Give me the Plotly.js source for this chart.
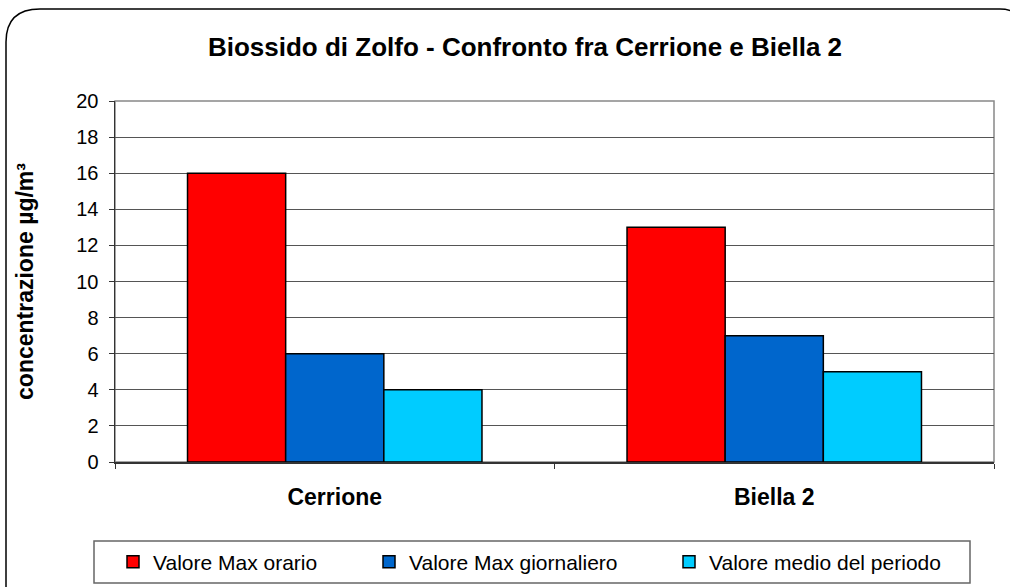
<!DOCTYPE html>
<html>
<head>
<meta charset="utf-8">
<script src="https://cdn.plot.ly/plotly-3.0.1.min.js"></script>
<style>
html,body{margin:0;padding:0;background:#fff;}
#chart{width:1010px;height:587px;}
</style>
</head>
<body>
<div id="chart"></div>
<script>
const categories = ["Cerrione", "Biella 2"];
const seriesNames = ["Valore Max orario", "Valore Max giornaliero", "Valore medio del periodo"];
const valMaxOrario = [16, 13];
const valMaxGiornaliero = [6, 7];
const valMedio = [4, 5];
const seriesValues = [valMaxOrario, valMaxGiornaliero, valMedio];
const seriesColors = ["#FF0000", "#0066CC", "#00CCFF"];
const yTicks = [0, 2, 4, 6, 8, 10, 12, 14, 16, 18, 20];

const W = 1010, H = 587;
const M = {l: 115, r: 16, t: 101, b: 125};
const pw = W - M.l - M.r, ph = H - M.t - M.b;
function px(x) { return (x - M.l) / pw; }
function py(y) { return (H - M.b - y) / ph; }

const font = "Liberation Sans, Arial, sans-serif";
const legendNames = ["legend", "legend2", "legend3"];

const traces = seriesNames.map((n, i) => ({
  type: "bar",
  name: n,
  x: categories,
  y: seriesValues[i],
  marker: {color: seriesColors[i], line: {color: "#000", width: 1.5}},
  legend: legendNames[i],
  hoverinfo: "none"
}));

function legendAt(xpix) {
  return {
    xref: "container", yref: "container",
    x: xpix / W, xanchor: "left",
    y: 1 - 562 / H, yanchor: "middle",
    orientation: "h",
    bgcolor: "rgba(0,0,0,0)",
    borderwidth: 0,
    font: {family: font, size: 21, color: "#000"}
  };
}

// outer rounded frame path in paper coords
const frame = "M" + px(6) + "," + py(620) +
  " L" + px(6) + "," + py(42) +
  " Q" + px(6) + "," + py(9) + " " + px(40) + "," + py(9) +
  " L" + px(1000) + "," + py(9) +
  " Q" + px(1012) + "," + py(9) + " " + px(1020) + "," + py(16);

const layout = {
  width: W, height: H,
  margin: M,
  paper_bgcolor: "#fff",
  plot_bgcolor: "#fff",
  font: {family: font, size: 20, color: "#000"},
  title: {
    text: "<b>Biossido di Zolfo - Confronto fra Cerrione e Biella 2</b>",
    font: {family: font, size: 26, color: "#000"},
    x: 525 / W, xref: "container", xanchor: "center",
    y: 1 - 47 / H, yref: "container", yanchor: "middle"
  },
  barmode: "group",
  bargap: 0.33,
  bargroupgap: 0,
  showlegend: true,
  legend: legendAt(113),
  legend2: legendAt(369),
  legend3: legendAt(669),
  xaxis: {
    type: "category",
    tickson: "boundaries",
    ticks: "outside",
    ticklen: 5,
    tickcolor: "#333",
    showgrid: false,
    showline: true,
    linecolor: "#333",
    linewidth: 1.5,
    ticklabelstandoff: 14,
    tickfont: {family: font, size: 23, color: "#000", weight: "bold"},
    automargin: false,
    fixedrange: true
  },
  yaxis: {
    range: [0, 20],
    tickmode: "array",
    tickvals: yTicks,
    ticktext: yTicks.map(String),
    ticks: "outside",
    ticklen: 5,
    tickcolor: "#333",
    showline: true,
    linecolor: "#333",
    linewidth: 1.5,
    showgrid: true,
    gridcolor: "#555",
    gridwidth: 1,
    zeroline: false,
    ticklabelstandoff: 6,
    tickfont: {family: font, size: 20, color: "#000"},
    title: {
      text: "<b>concentrazione µg/m³</b>",
      font: {family: font, size: 23, color: "#000"},
      standoff: 36
    },
    automargin: false,
    fixedrange: true
  },
  shapes: [
    {type: "rect", xref: "paper", yref: "paper", x0: 0, x1: 1, y0: 0, y1: 1,
     line: {color: "#888", width: 1.5}, layer: "below"},
    {type: "rect", xref: "paper", yref: "paper",
     x0: px(94), x1: px(970), y0: py(583), y1: py(541),
     line: {color: "#666", width: 1.5}, fillcolor: "rgba(0,0,0,0)"},
    {type: "path", xref: "paper", yref: "paper", path: frame,
     line: {color: "#000", width: 1.5}}
  ]
};

Plotly.newPlot("chart", traces, layout, {displayModeBar: false, staticPlot: true});
</script>
</body>
</html>
